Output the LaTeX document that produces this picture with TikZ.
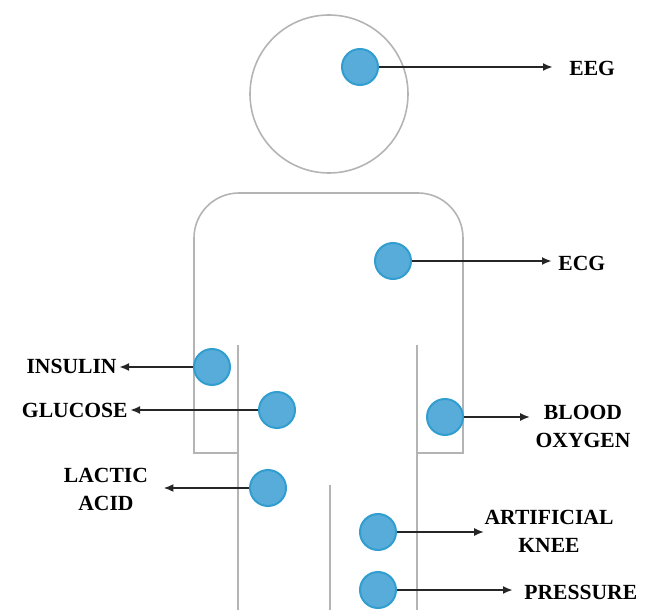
\documentclass[tikz,border=0pt]{standalone}
\usepackage{fontspec}
\setmainfont{Liberation Serif}
\usetikzlibrary{arrows.meta}
\definecolor{dotblue}{RGB}{88,172,218}
\definecolor{dotrim}{RGB}{50,158,208}
\definecolor{bodygray}{RGB}{180,180,180}
\tikzset{
    sensor/.style={circle, fill=dotblue, draw=dotrim, line width=1pt, minimum size=18pt, inner sep=0pt},
    outline/.style={draw=bodygray, line width=0.8pt},
    lead/.style={draw=black!85, line width=1pt, -{Latex[length=5pt,width=4pt]}},
    tag/.style={font=\fontsize{10.8}{14}\selectfont\bfseries, inner sep=0pt, align=center, text=black},
}

\begin{document}
\begin{tikzpicture}[x=0.5pt, y=-0.5pt]
\useasboundingbox (0,0) rectangle (654,610);
% head and body
\draw[outline] (329,94) circle[radius=39.5pt];
\draw[outline] (238,453) -- (194,453) -- (194,300) [rounded corners=22.5pt] -- (194,193) -- (463,193) -- (463,300) [sharp corners] -- (463,453) -- (417,453);
\draw[outline] (238,345) -- (238,610);
\draw[outline] (417,345) -- (417,610);
\draw[outline] (330,485) -- (330,610);

% sensors
\node[sensor] (eeg) at (360,67) {};
\node[sensor] (ecg) at (393,261) {};
\node[sensor] (insulin) at (212,367) {};
\node[sensor] (glucose) at (277,410) {};
\node[sensor] (lactic) at (268,488) {};
\node[sensor] (oxygen) at (445,417) {};
\node[sensor] (knee) at (378,532) {};
\node[sensor] (pressure) at (378,590) {};

% labels
\node[tag, anchor=west] (eegtxt) at (569,68) {EEG};
\node[tag, anchor=west] (ecgtxt) at (558,263) {ECG};
\node[tag, anchor=east] (insulintxt) at (117,366) {INSULIN};
\node[tag, anchor=east] (glucosetxt) at (128,410) {GLUCOSE};
\node[tag] (lactictxt) at (106,489) {LACTIC\\ACID};
\node[tag] (oxygentxt) at (583,426) {BLOOD\\OXYGEN};
\node[tag] (kneetxt) at (549,531) {ARTIFICIAL\\KNEE};
\node[tag, anchor=west] (pressuretxt) at (524,592) {PRESSURE};

% leads
\draw[lead, shorten >=8pt] (eeg) -- (eeg -| eegtxt.west);
\draw[lead, shorten >=3pt] (ecg) -- (ecg -| ecgtxt.west);
\draw[lead, shorten >=1pt] (insulin) -- (insulin -| insulintxt.east);
\draw[lead, shorten >=1pt] (glucose) -- (glucose -| glucosetxt.east);
\draw[lead, shorten >=7.5pt] (lactic) -- (lactic -| lactictxt.east);
\draw[lead, shorten >=2.5pt] (oxygen) -- (oxygen -| oxygentxt.west);
\draw[lead] (knee) -- (knee -| kneetxt.west);
\draw[lead, shorten >=5.5pt] (pressure) -- (pressure -| pressuretxt.west);
\end{tikzpicture}
\end{document}
